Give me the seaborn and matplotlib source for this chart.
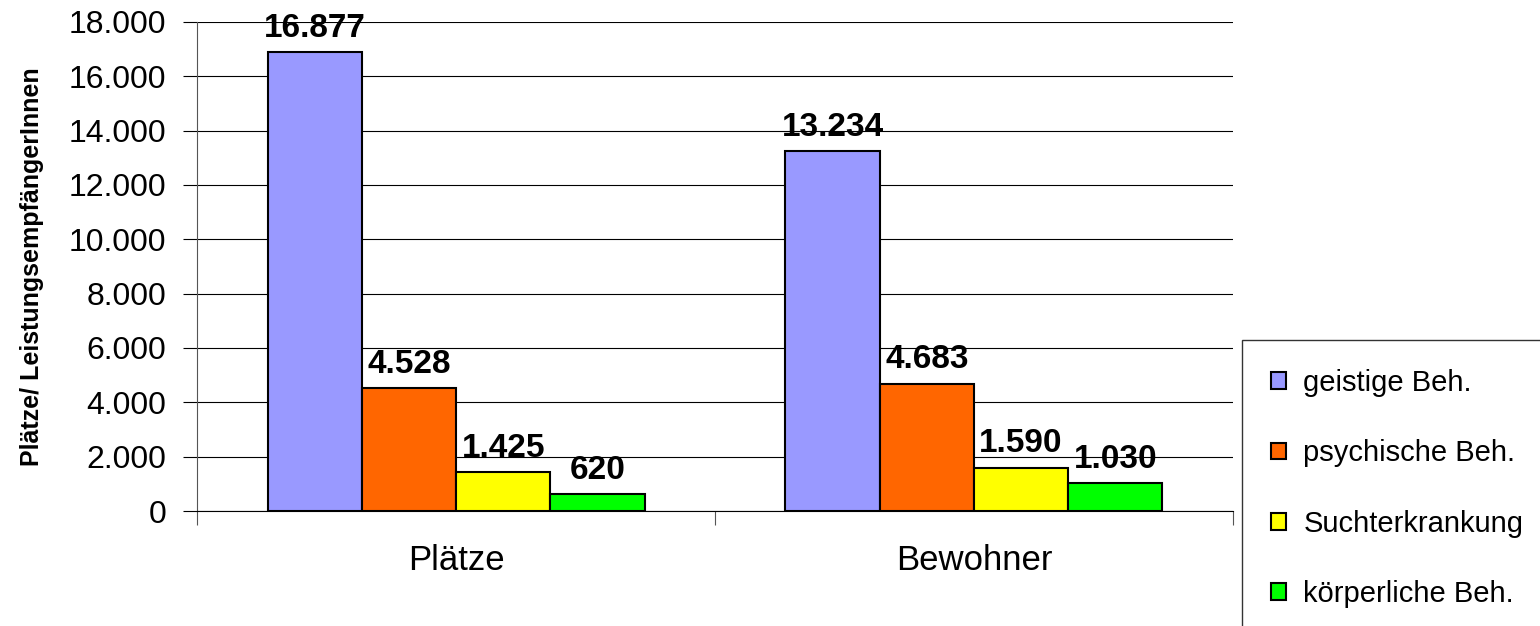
import pandas as pd
import seaborn as sns
import matplotlib.pyplot as plt
from matplotlib.ticker import FuncFormatter, FixedLocator

categories = ["Plätze", "Bewohner"]
groups = ["geistige Beh.", "psychische Beh.", "Suchterkrankung", "körperliche Beh."]
plaetze = [16877, 4528, 1425, 620]
bewohner = [13234, 4683, 1590, 1030]
colors = ["#9999FF", "#FF6600", "#FFFF00", "#00FF00"]

rows = []
for g, p, b in zip(groups, plaetze, bewohner):
    rows.append({"Kategorie": "Plätze", "Gruppe": g, "Wert": p})
    rows.append({"Kategorie": "Bewohner", "Gruppe": g, "Wert": b})
df = pd.DataFrame(rows)

sns.set_style("white")
plt.rcParams["font.family"] = ["Liberation Sans", "DejaVu Sans"]
plt.rcParams["text.color"] = "black"
plt.rcParams["xtick.color"] = "black"
plt.rcParams["ytick.color"] = "black"
plt.rcParams["axes.labelcolor"] = "black"

fig = plt.figure(figsize=(15.4, 6.26), dpi=100)
ax = fig.add_axes([0.128, 0.1837, 0.6726, 0.7812])

sns.barplot(data=df, x="Kategorie", y="Wert", hue="Gruppe", order=categories,
            hue_order=groups, palette=colors, width=0.728, edgecolor="black",
            linewidth=1.5, saturation=1, ax=ax)

def fmt(v):
    return f"{int(v):,}".replace(",", ".")

# Werte ueber den Balken
for cont in ax.containers:
    ax.bar_label(cont, labels=[fmt(v) for v in cont.datavalues], padding=6,
                 fontsize=24, fontweight="bold")

ax.set_xlim(-0.5, 1.5)
ax.set_ylim(0, 18000)
ax.set_yticks(range(0, 18001, 2000))
ax.yaxis.set_major_formatter(FuncFormatter(lambda v, p: fmt(v)))
ax.grid(axis="y", color="black", linewidth=0.8)
ax.set_axisbelow(True)
for s in ["top", "right"]:
    ax.spines[s].set_visible(False)
ax.spines["left"].set_color("#555555")
ax.spines["bottom"].set_color("black")
ax.tick_params(axis="y", which="major", length=10, width=0.8, labelsize=23, pad=12, left=True)
ax.tick_params(axis="x", which="major", length=0, labelsize=25, pad=24)
ax.xaxis.set_minor_locator(FixedLocator([-0.5, 0.5, 1.5]))
ax.tick_params(axis="x", which="minor", length=10, width=0.8, bottom=True, color="#555555")
ax.set_xlabel("")
ax.set_ylabel("Plätze/ LeistungsempfängerInnen", fontsize=18,
              fontweight="bold", labelpad=18)

# Legende rechts unten, ragt ueber den Rand hinaus
handles, labels = ax.get_legend_handles_labels()
ax.get_legend().remove()
leg = fig.legend(handles, labels, loc="upper left", bbox_to_anchor=(0.8065, 0.457),
                 fontsize=21, frameon=True, fancybox=False, edgecolor="black",
                 labelspacing=1.45, handlelength=0.5, handleheight=0.5,
                 borderpad=1.0, borderaxespad=0, handletextpad=0.6)
leg.get_frame().set_linewidth(1.0)

fig.savefig("out.png", dpi=100)
